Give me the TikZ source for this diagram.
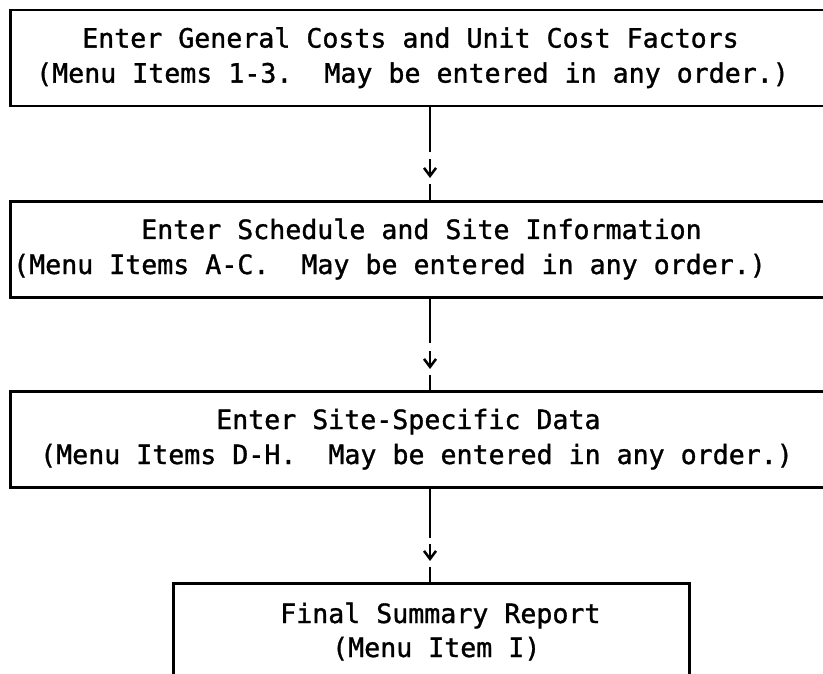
\documentclass[tikz,border=0pt]{standalone}
\usepackage{fontspec}
\setmonofont[FakeBold=1.2]{DejaVu Sans Mono}
\usetikzlibrary{arrows.meta}
\begin{document}
\begin{tikzpicture}[x=1pt,y=-1pt,
  box/.style={draw,line width=2.8pt,inner sep=0pt,anchor=north west},
  txt/.style={inner sep=0pt,anchor=base west,font=\ttfamily\fontsize{26.6}{32}\selectfont},
  conn/.style={line width=2.8pt},
  tipline/.style={line width=2.5pt,-{Straight Barb[length=8pt,width=12pt]}}]
\useasboundingbox (0,0) rectangle (823,674);
\fill[white] (0,0) rectangle (823,674);
\coordinate (ax) at (430,0);
% boxes
\node[box,minimum width=830pt,minimum height=96pt] (b1) at (9,8.6) {};
\node[box,minimum width=830pt,minimum height=96pt] (b2) at (9,200) {};
\node[box,minimum width=830pt,minimum height=96pt] (b3) at (9,390) {};
\node[box,minimum width=516pt,minimum height=120pt] (b4) at (172,582) {};
% texts
\node[txt] (t1a) at (82,47.6) {Enter General Costs and Unit Cost Factors};
\node[txt] (t1b) at (36,82.6) {(Menu Items 1-3.\ \ May be entered in any order.)};
\node[txt] (t2a) at (141,239) {Enter Schedule and Site Information};
\node[txt] (t2b) at (13,274) {(Menu Items A-C.\ \ May be entered in any order.)};
\node[txt] (t3a) at (216,429) {Enter Site-Specific Data};
\node[txt] (t3b) at (40,464) {(Menu Items D-H.\ \ May be entered in any order.)};
\node[txt] (t4a) at (280,623) {Final Summary Report};
\node[txt] (t4b) at (332,657) {(Menu Item I)};
% connectors
\coordinate (a1e) at (430,152);
\coordinate (a1h) at (430,159);
\coordinate (a1t) at (430,178);
\coordinate (a1b) at (430,184);
\draw[conn] (b1.south -| ax) -- (a1e);
\draw[tipline] (a1h) -- (a1t);
\draw[conn] (a1b) -- (b2.north -| ax);
\coordinate (a2e) at (430,343);
\coordinate (a2h) at (430,351);
\coordinate (a2t) at (430,369);
\coordinate (a2b) at (430,375);
\draw[conn] (b2.south -| ax) -- (a2e);
\draw[tipline] (a2h) -- (a2t);
\draw[conn] (a2b) -- (b3.north -| ax);
\coordinate (a3e) at (430,538);
\coordinate (a3h) at (430,544);
\coordinate (a3t) at (430,561);
\coordinate (a3b) at (430,567);
\draw[conn] (b3.south -| ax) -- (a3e);
\draw[tipline] (a3h) -- (a3t);
\draw[conn] (a3b) -- (b4.north -| ax);
\end{tikzpicture}
\end{document}
